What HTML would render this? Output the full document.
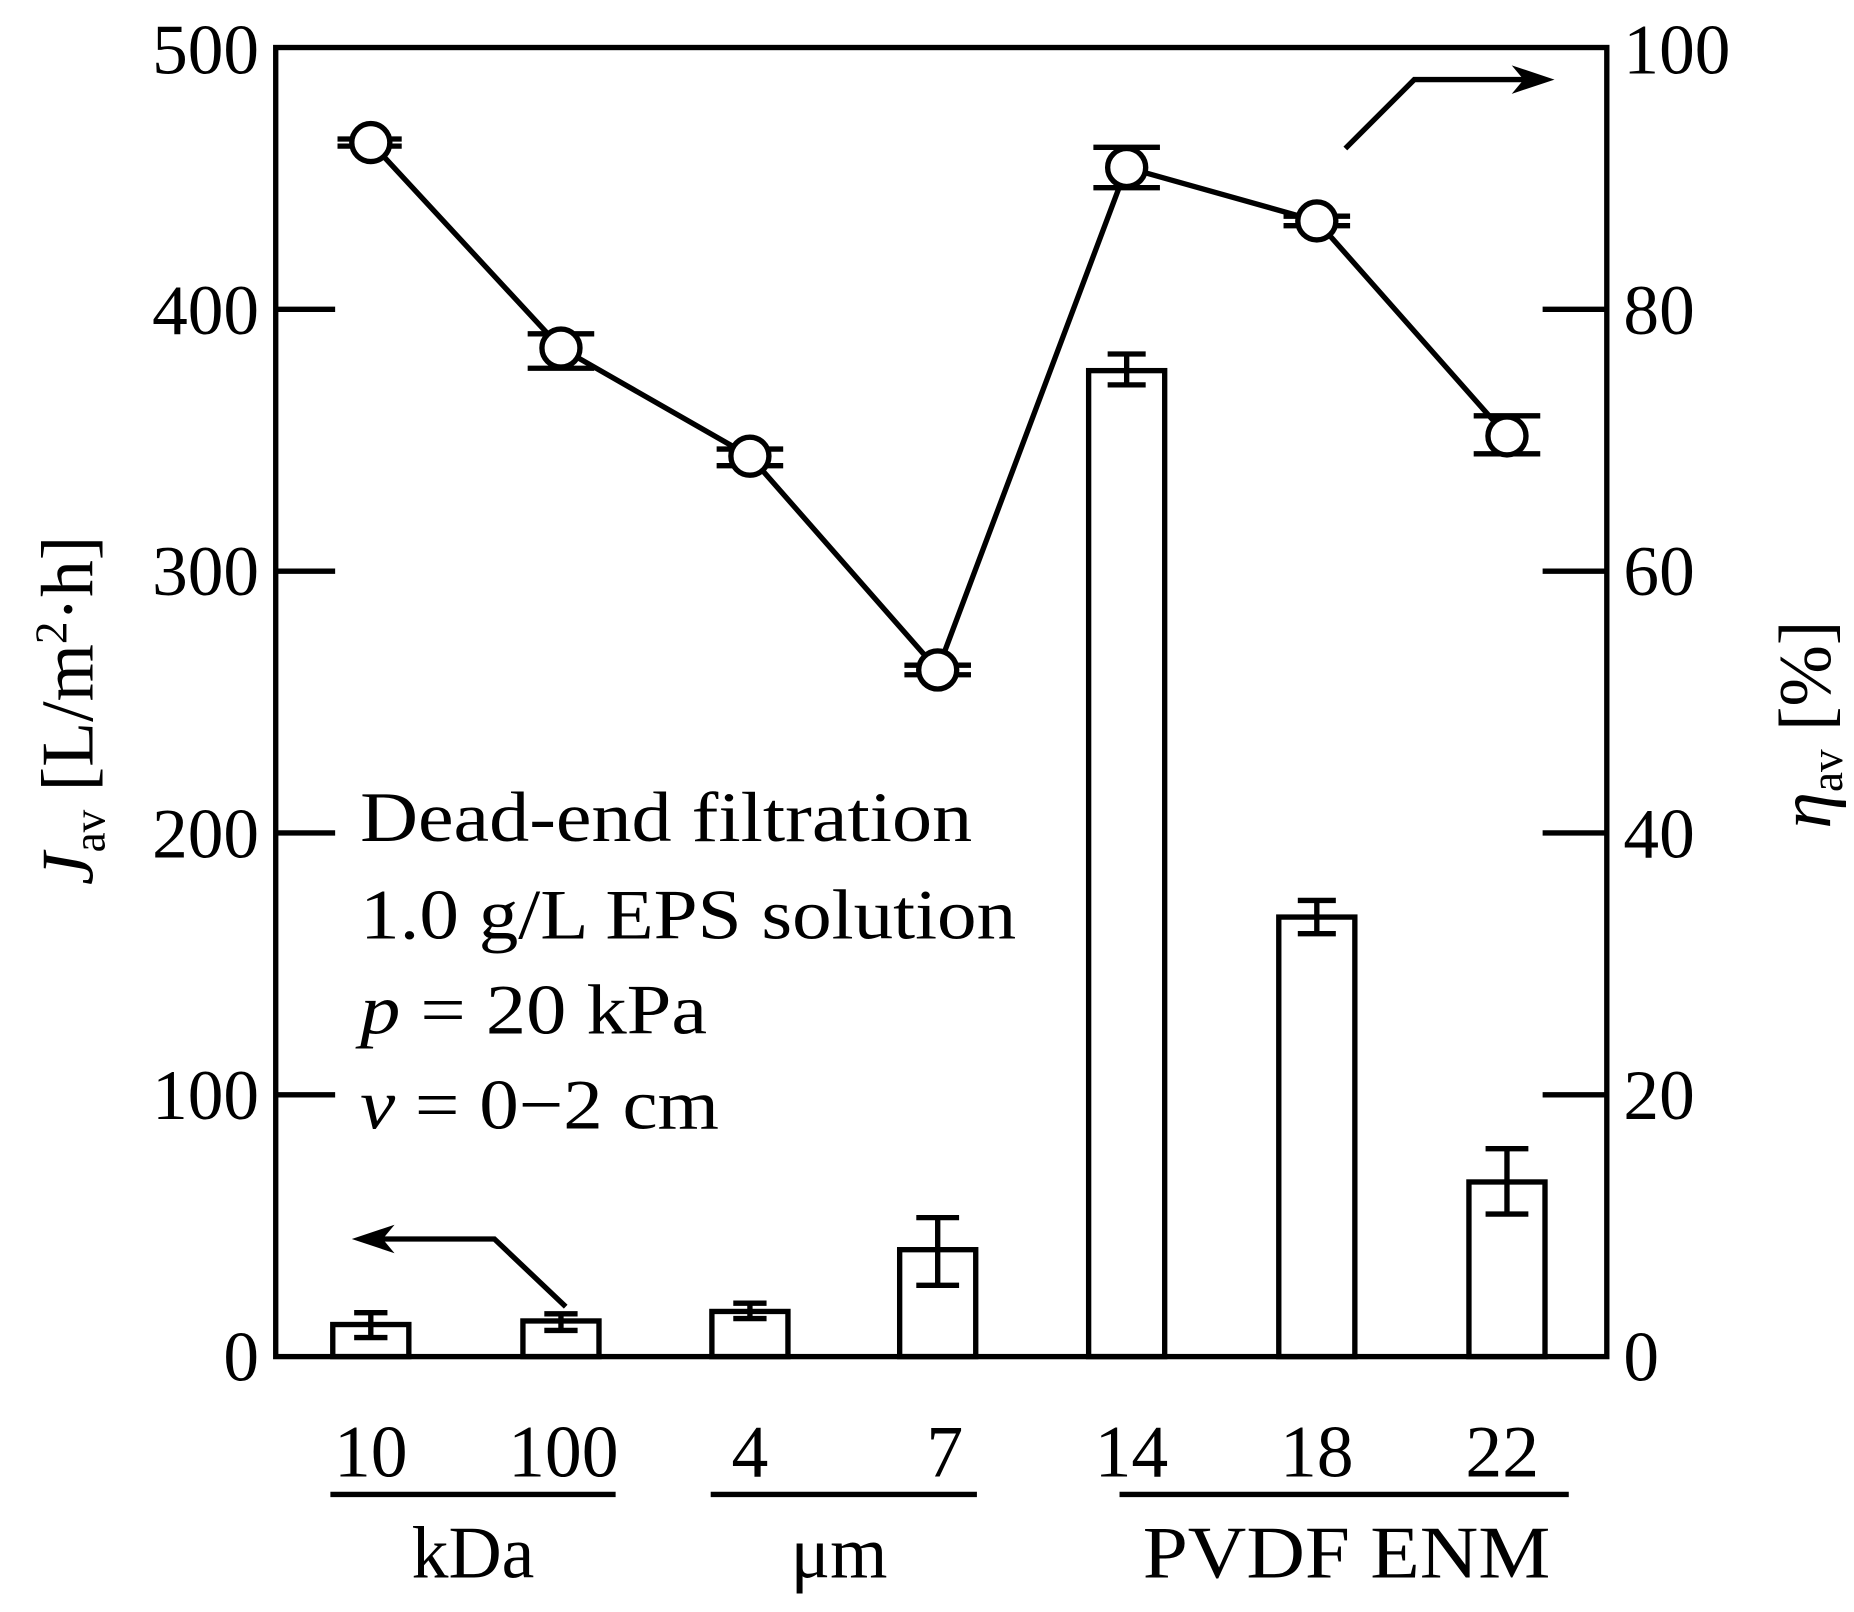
<!DOCTYPE html>
<html><head><style>html,body{margin:0;padding:0;background:#fff}svg{display:block}</style></head>
<body>
<svg width="1854" height="1612" viewBox="0 0 1560 1357" preserveAspectRatio="none" xmlns="http://www.w3.org/2000/svg" font-family="Liberation Serif, serif" fill="#000">
<g stroke="#000" stroke-width="4.5" fill="none">
<rect x="232" y="40" width="1120" height="1102"/>
<path d="M232 260.4h50M232 480.8h50M232 701.2h50M232 921.6h50M1298 260.4h54M1298 480.8h54M1298 701.2h54M1298 921.6h54"/>
<rect x="280" y="1115" width="64" height="27"/>
<rect x="440" y="1112" width="64" height="30"/>
<rect x="599" y="1104" width="64" height="38"/>
<rect x="757" y="1052" width="64" height="90"/>
<rect x="916" y="312" width="64" height="830"/>
<rect x="1076" y="772" width="64" height="370"/>
<rect x="1236" y="995" width="64" height="147"/>
<path d="M312 1105v21M298 1105h28M298 1126h28
M472 1106v14M458 1106h28M458 1120h28
M631 1097v13M617 1097h28M617 1110h28
M789 1025v57M771 1025h36M771 1082h36
M948 298v26M932 298h32M932 324h32
M1108 758v28M1092 758h32M1092 786h32
M1268 967v55M1250 967h36M1250 1022h36"/>
<polyline points="312,120 472,293 631,384 789,564 948,141 1108,186 1268,367"/>
<path d="M284 117h54M284 123h54
M444 281h56M444 310h56
M603 378h56M603 392h56
M761 560h56M761 568h56
M920 124h56M920 158h56
M1080 182h56M1080 190h56
M1240 350h56M1240 382h56"/>
<polyline points="1132,125 1190,67 1300,67"/>
<polyline points="476,1100 416,1043 305,1043"/>
<path d="M278 1258h240M598 1258h224M942 1258h378"/>
</g>
<path d="M1308 67l-36-12l10 12l-10 12z"/>
<path d="M296 1043l36-12l-10 12l10 12z"/>
<g fill="#fff" stroke="#000" stroke-width="4.5">
<circle cx="312" cy="120" r="16"/><circle cx="472" cy="293" r="16"/><circle cx="631" cy="384" r="16"/><circle cx="789" cy="564" r="16"/><circle cx="948" cy="141" r="16"/><circle cx="1108" cy="186" r="16"/><circle cx="1268" cy="367" r="16"/>
</g>
<g font-size="60" text-anchor="end">
<text x="218" y="1162">0</text><text x="218" y="942">100</text><text x="218" y="722">200</text><text x="218" y="501">300</text><text x="218" y="281">400</text><text x="218" y="62">500</text>
</g>
<g font-size="60">
<text x="1366" y="1162">0</text><text x="1366" y="942">20</text><text x="1366" y="722">40</text><text x="1366" y="501">60</text><text x="1366" y="281">80</text><text x="1366" y="62">100</text>
</g>
<g font-size="60">
<text x="303" y="708" textLength="515" lengthAdjust="spacingAndGlyphs">Dead-end filtration</text>
<text x="303" y="790" textLength="552" lengthAdjust="spacingAndGlyphs">1.0 g/L EPS solution</text>
<text x="303" y="870" textLength="292" lengthAdjust="spacingAndGlyphs"><tspan font-style="italic">p</tspan> = 20 kPa</text>
<text x="303" y="950" textLength="302" lengthAdjust="spacingAndGlyphs"><tspan font-style="italic">v</tspan> = 0−2 cm</text>
</g>
<g font-size="62" text-anchor="middle">
<text x="312" y="1243">10</text><text x="474" y="1243">100</text><text x="631" y="1243">4</text><text x="795" y="1243">7</text><text x="952" y="1243">14</text><text x="1108" y="1243">18</text><text x="1264" y="1243">22</text>
<text x="398" y="1328">kDa</text><text x="706" y="1328">μm</text><text x="1133" y="1328" textLength="343" lengthAdjust="spacingAndGlyphs">PVDF ENM</text>
</g>
<text transform="translate(78,598) rotate(-90)" font-size="62" text-anchor="middle"><tspan font-style="italic">J</tspan><tspan font-size="38" dy="10">av</tspan><tspan dy="-10"> [L/m</tspan><tspan font-size="38" dy="-22">2</tspan><tspan dy="22">·h]</tspan></text>
<text transform="translate(1540,610) rotate(-90)" font-size="62" text-anchor="middle"><tspan font-style="italic">η</tspan><tspan font-size="38" dy="10">av</tspan><tspan dy="-10"> [%]</tspan></text>
</svg>
</body></html>
